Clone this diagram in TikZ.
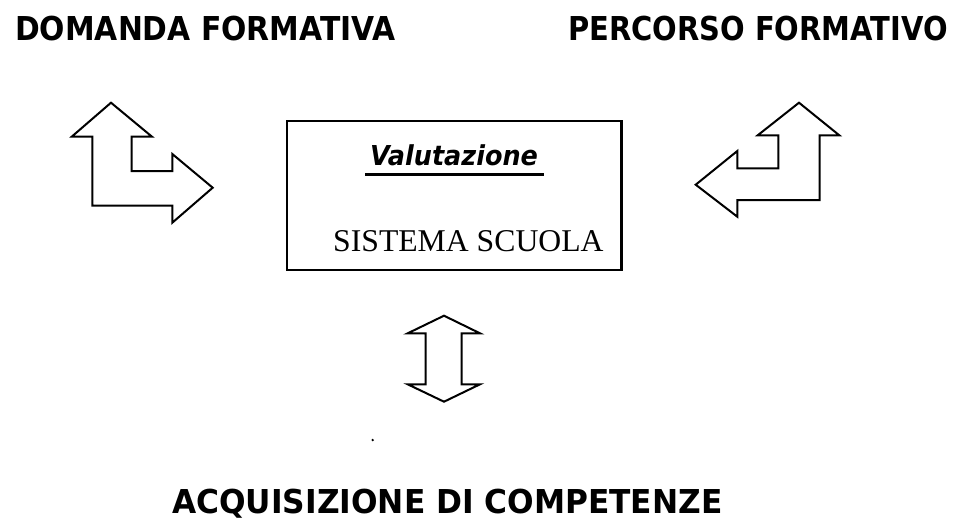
\documentclass[tikz,border=0pt]{standalone}
\usepackage{fontspec}
\setmainfont{Liberation Serif}
\newfontfamily\headfont{DejaVu Sans}
\tikzset{
  blockarrow/.style={draw=black, line width=2pt, line join=miter, fill=white},
  heading/.style={anchor=base west, inner sep=0pt, font=\headfont\bfseries\fontsize{32.9}{36}\selectfont},
  framebox/.style={draw=black, line width=2.3pt},
}
\begin{document}
\begin{tikzpicture}[x=1pt,y=-1pt]
\useasboundingbox (0,0) rectangle (955,520);
% headings
\node[heading] (domanda) at (15,40.7) {\scalebox{0.906}[1]{DOMANDA FORMATIVA}};
\node[heading] (percorso) at (568,40.7) {\scalebox{0.88}[1]{PERCORSO FORMATIVO}};
\node[heading] (acquisizione) at (172,513) {\scalebox{0.95}[1]{ACQUISIZIONE DI COMPETENZE}};
% central box
\draw[framebox] (287.3,121) rectangle (621.5,270);
\node[anchor=base west, inner sep=0pt, font=\headfont\bfseries\itshape\fontsize{27.4}{30}\selectfont] (valut) at (370,165) {\scalebox{0.93}[1]{Valutazione}};
\draw[line width=2.4pt] (365,174.3) -- (544.3,174.3);
\node[anchor=base west, inner sep=0pt, font=\fontsize{31.7}{34}\selectfont] (sistema) at (333,251.7) {SISTEMA SCUOLA};
% left L-shaped arrow
\draw[blockarrow] (111,102.7) -- (152,136.7) -- (131.7,136.7) -- (131.7,171) -- (172.3,171) -- (172.3,154)
  -- (212.7,187.7) -- (172.3,222.7) -- (172.3,205.7) -- (92.3,205.7) -- (92.3,136.7) -- (71.7,136.7) -- cycle;
% right L-shaped arrow
\draw[blockarrow] (799,102.7) -- (839.3,135.3) -- (819.7,135.3) -- (819.7,200) -- (737.3,200) -- (737.3,216.7)
  -- (695.7,184.7) -- (737.3,151) -- (737.3,168.3) -- (778.3,168.3) -- (778.3,135.3) -- (757.7,135.3) -- cycle;
% vertical double arrow
\draw[blockarrow] (444,315.7) -- (480,333.3) -- (461.7,333.3) -- (461.7,384.3) -- (480,384.3) -- (444,401.7)
  -- (407.7,384.3) -- (425.7,384.3) -- (425.7,333.3) -- (407.7,333.3) -- cycle;
% small dot
\fill (372.7,440) circle (1.3pt);
\end{tikzpicture}
\end{document}
